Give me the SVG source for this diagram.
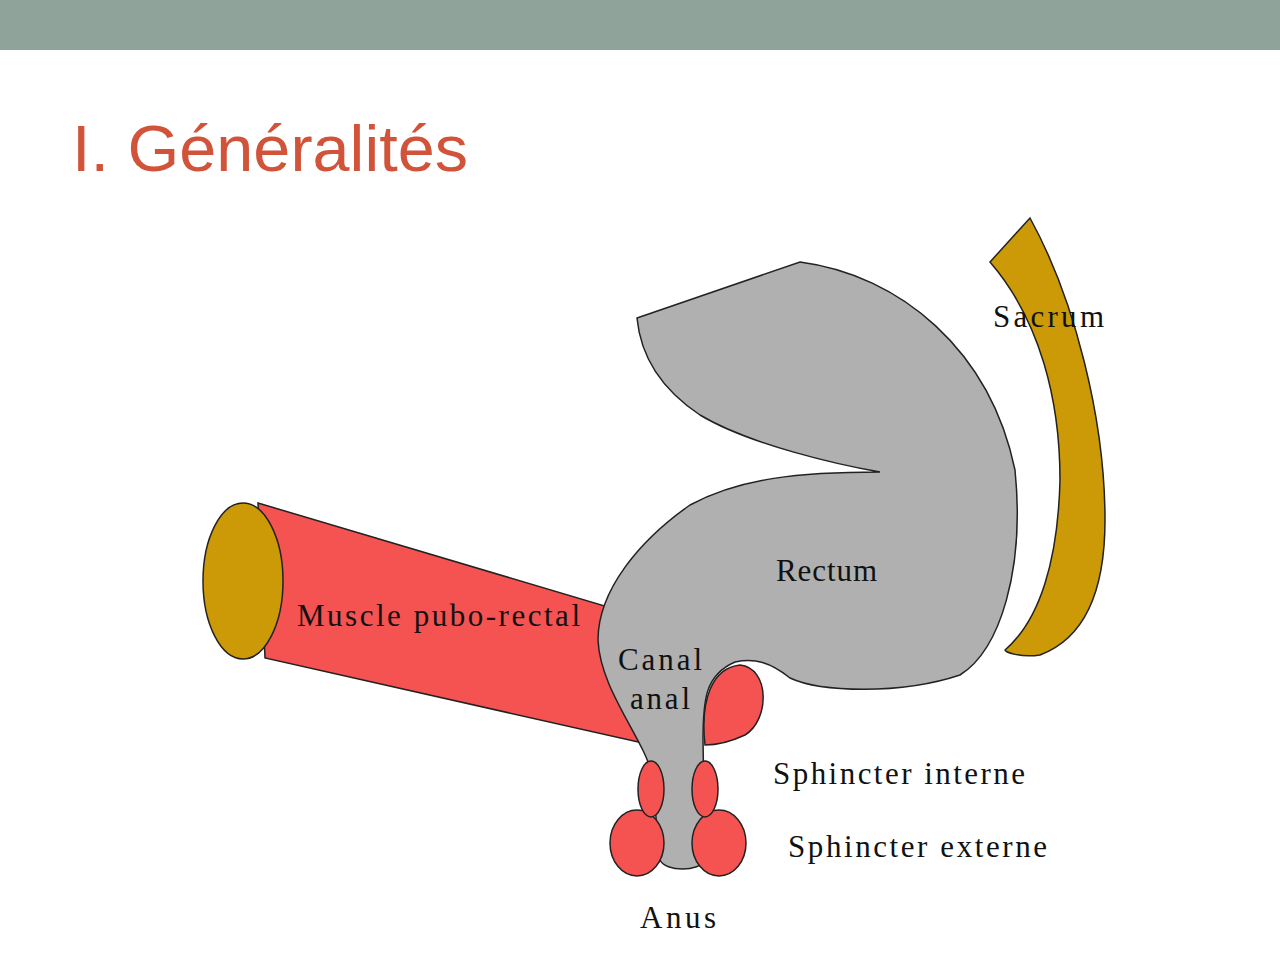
<svg xmlns="http://www.w3.org/2000/svg" width="1280" height="960" viewBox="0 0 1280 960">
<style>
.o{stroke:#222;stroke-width:1.5}
.r{fill:#f55252}
.g{fill:#b0b0b0}
.y{fill:#cc9a06}
.l{font-family:"Liberation Serif",serif;font-size:31px;fill:#111}
</style>
<rect width="1280" height="960" fill="#fff"/>
<rect width="1280" height="50" fill="#8fa39a"/>
<text x="72" y="171" font-family="Liberation Sans,Arial,sans-serif" font-size="64" fill="#d0533a" textLength="396" lengthAdjust="spacingAndGlyphs">I. Généralités</text>
<g id="sacrum"><path class="y o" d="M990,262 L1030,218 C1075,300 1105,420 1105,520 C1105,600 1080,640 1040,655 C1020,658 1005,652 1005,650 C1040,620 1058,560 1060,480 C1060,400 1040,320 990,262 Z"/></g>
<g id="muscle"><path class="r o" d="M258,503 L625,612 L665,748 L265,658 Z"/><ellipse class="y o" cx="243" cy="581" rx="40" ry="78"/></g>
<g id="lobe"><path class="r o" d="M705,745 C700,700 712,668 740,665 C770,668 770,720 745,735 C730,742 715,745 705,745 Z"/></g>
<g id="rectum"><path class="g o" d="M637,318 L800,262 C900,275 990,350 1015,470 C1025,570 1000,650 960,675 C900,695 820,692 790,678 C770,662 755,658 735,662 C705,675 703,700 703,740 L705,860 C700,872 665,872 660,860 L652,775 C645,740 600,690 598,640 C598,590 640,540 690,505 C740,478 800,472 880,472 C840,465 750,445 700,415 C655,385 640,350 637,318 Z"/></g>
<g id="sphincter-externe"><ellipse class="r o" cx="637" cy="843" rx="27" ry="33"/><ellipse class="r o" cx="719" cy="843" rx="27" ry="33"/></g>
<g id="sphincter-interne"><ellipse class="r o" cx="651" cy="789" rx="13" ry="28"/><ellipse class="r o" cx="705" cy="789" rx="13" ry="28"/></g>
<g id="labels">
<text class="l" x="993" y="327" textLength="111">Sacrum</text>
<text class="l" x="776" y="581" textLength="101">Rectum</text>
<text class="l" x="297" y="626" textLength="283">Muscle pubo-rectal</text>
<text class="l" x="618" y="670" textLength="84">Canal</text>
<text class="l" x="630" y="709" textLength="60">anal</text>
<text class="l" x="773" y="784" textLength="252">Sphincter interne</text>
<text class="l" x="788" y="857" textLength="259">Sphincter externe</text>
<text class="l" x="640" y="928" textLength="76">Anus</text>
</g>
</svg>
